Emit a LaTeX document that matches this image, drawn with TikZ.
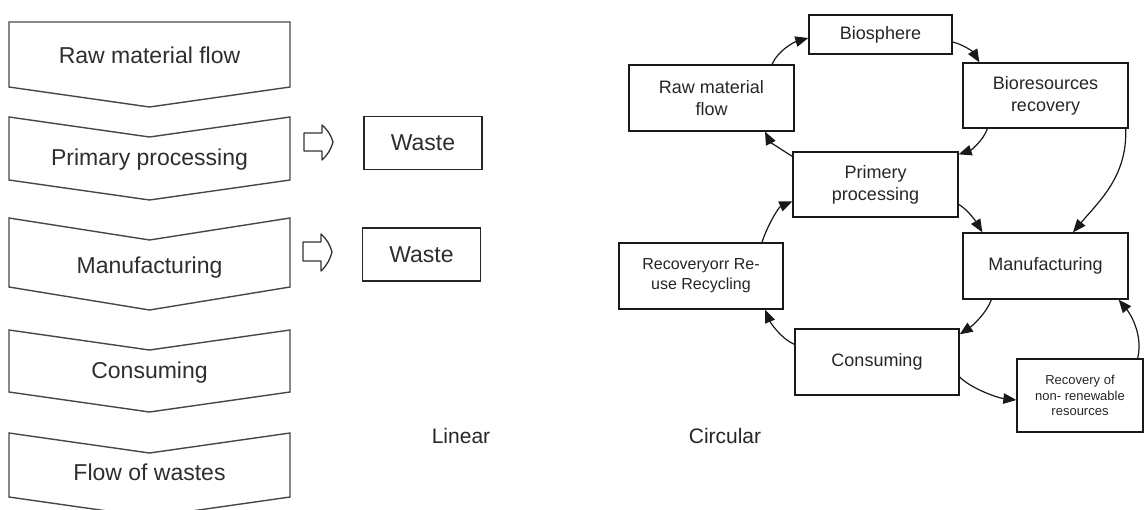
\documentclass[tikz,border=0pt]{standalone}
\usepackage{fontspec}
\setmainfont{Liberation Sans}
\usetikzlibrary{arrows.meta}
\begin{document}
\begin{tikzpicture}[x=1pt,y=-1pt,
  chev/.style={draw=black!72, line width=1.4pt, line join=miter},
  ltext/.style={font=\fontsize{23}{27}\selectfont, text=black!82, anchor=base, inner sep=0pt},
  wbox/.style={draw=black!85, line width=1.4pt, inner sep=0pt, font=\fontsize{23}{27}\selectfont, text=black!82, minimum width=118pt, minimum height=53pt},
  hollow/.style={draw=black!80, line width=1.3pt, line join=round},
  box/.style={draw=black!90, line width=1.3pt, inner sep=0pt, align=center, text=black!85, font=\fontsize{18}{22}\selectfont},
  arr/.style={line width=1.2pt, draw=black!90, -{Triangle[length=13pt,width=10.5pt]}},
  captext/.style={font=\fontsize{21}{25}\selectfont, text=black!85, anchor=base, inner sep=0pt}
]
\useasboundingbox (0,0) rectangle (1145,509);
\fill[white] (0,0) rectangle (1145,509);

% ---------- Linear (chevrons) ----------
\draw[chev] (9,22) -- (290,22) -- (290,87) -- (149.5,107) -- (9,87) -- cycle;
\draw[chev] (9,117) -- (149.5,137) -- (290,117) -- (290,180) -- (149.5,200) -- (9,180) -- cycle;
\draw[chev] (9,218) -- (149.5,240) -- (290,218) -- (290,287) -- (149.5,310) -- (9,287) -- cycle;
\draw[chev] (9,330) -- (149.5,350) -- (290,330) -- (290,392) -- (149.5,412) -- (9,392) -- cycle;
\draw[chev] (9,433) -- (149.5,453) -- (290,433) -- (290,497) -- (149.5,517) -- (9,497) -- cycle;

\node[ltext] (lraw)  at (149.5,63)  {Raw material flow};
\node[ltext] (lprim) at (149.5,165) {Primary processing};
\node[ltext] (lmanu) at (149.5,273) {Manufacturing};
\node[ltext] (lcons) at (149.5,378) {Consuming};
\node[ltext] (lflow) at (149.5,480) {Flow of wastes};

% hollow arrows
\draw[hollow] (304,133) -- (322,133) -- (322,125) to[bend left=15] (333,142)
  to[bend left=15] (322,160) -- (322,151) -- (304,151) -- cycle;
\draw[hollow] (303,242) -- (321,242) -- (321,234) to[bend left=15] (332,252)
  to[bend left=15] (321,271) -- (321,261) -- (303,261) -- cycle;

\node[wbox] (w1) at (423,143) {Waste};
\node[wbox] (w2) at (421.5,254.5) {Waste};

\node[captext] (lin) at (461,443) {Linear};
\node[captext] (cir) at (725,443) {Circular};

% ---------- Circular ----------
\node[box, minimum width=143pt, minimum height=39pt] (bio) at (880.5,34.5) {Biosphere};
\node[box, minimum width=165pt, minimum height=66pt] (raw) at (711.5,98) {Raw material\\flow};
\node[box, minimum width=165pt, minimum height=65pt] (biores) at (1045.5,95.5) {Bioresources\\recovery};
\node[box, minimum width=165pt, minimum height=65pt] (prim) at (875.5,184.5) {Primery\\processing};
\node[box, minimum width=165pt, minimum height=66pt] (manu) at (1045.5,266) {Manufacturing};
\node[box, minimum width=164pt, minimum height=66pt, font=\fontsize{16}{20}\selectfont] (recyc) at (701,276) {Recoveryorr Re-\\use Recycling};
\node[box, minimum width=164pt, minimum height=66pt] (cons) at (877,362) {Consuming};
\node[box, minimum width=126pt, minimum height=73pt, font=\fontsize{13}{15.5}\selectfont] (nonren) at (1080,395.5) {Recovery of\\non- renewable\\resources};

% arrows
\draw[arr] ([xshift=60.5pt]raw.north) .. controls +(6,-14) and +(-14,4) .. ([yshift=-3.5pt]bio.west);
\draw[arr] ([yshift=-7.5pt]bio.east) .. controls +(12,3) and +(-6,-10) .. ([xshift=17pt]biores.north west);
\draw[arr] ([xshift=25pt]biores.south west) .. controls +(-4,12) and +(12,-4) .. ([yshift=-3pt]prim.north east);
\draw[arr] ([xshift=-3pt]biores.south east) .. controls +(2,48) and +(25,-30) .. ([xshift=27.5pt]manu.north);
\draw[arr] ([yshift=-53pt]prim.north east) .. controls +(10,6) and +(-6,-10) .. ([xshift=20pt]manu.north west);
\draw[arr] ([yshift=-5pt]prim.north west) .. controls +(-10,-6) and +(5,10) .. ([xshift=53.5pt]raw.south);
\draw[arr] ([xshift=61pt]recyc.north) .. controls +(5,-16) and +(-14,6) .. ([yshift=-50pt]prim.north west);
\draw[arr] ([xshift=29pt]manu.south west) .. controls +(-5,14) and +(12,-8) .. ([yshift=-6pt]cons.north east);
\draw[arr] ([yshift=-16pt]cons.north west) .. controls +(-14,-6) and +(5,12) .. ([xshift=64pt]recyc.south);
\draw[arr] ([yshift=-15pt]cons.east) .. controls +(12,12) and +(-18,-2) .. ([yshift=-4.5pt]nonren.west);
\draw[arr] ([xshift=-6pt]nonren.north east) .. controls +(6,-25) and +(10,12) .. ([xshift=-10pt]manu.south east);
\end{tikzpicture}
\end{document}
